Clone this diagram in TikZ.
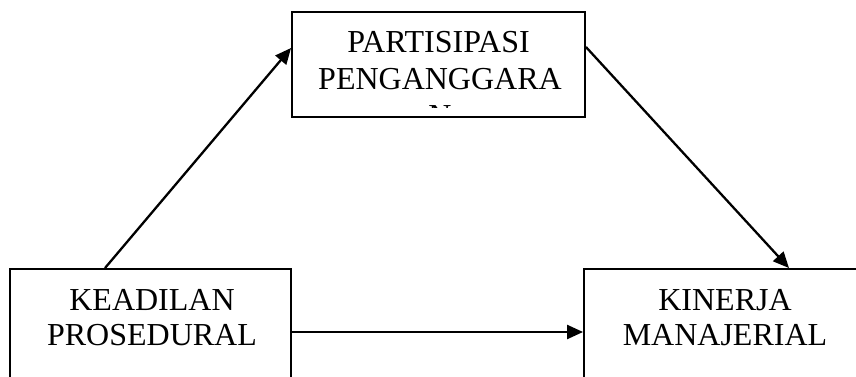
\documentclass[tikz,border=0pt]{standalone}
\usepackage{fontspec}
\setmainfont{Liberation Serif}
\usetikzlibrary{arrows.meta}
\begin{document}
\begin{tikzpicture}[x=1pt,y=-1pt,
  box/.style={draw=black,line width=1.9pt,rectangle,inner sep=0pt},
  lbl/.style={anchor=base,inner sep=0pt,font=\fontsize{32}{37}\selectfont},
  arr/.style={line width=2.3pt,-{Triangle[length=16pt,width=14pt]}}]
\useasboundingbox (0,0) rectangle (856,377);
\clip (0,0) rectangle (856,377);
\fill[white] (0,0) rectangle (856,377);
% boxes
\node[box,minimum width=293pt,minimum height=105pt] (T) at (438.5,64.5) {};
\node[box,minimum width=281pt,minimum height=126pt] (L) at (150.5,332) {};
\node[box,minimum width=282pt,minimum height=126pt] (R) at (725,332) {};
% texts
\node[lbl] (t1) at (438.5,53) {PARTISIPASI};
\node[lbl] (t2) at (440,90) {PENGANGGARA};
\begin{scope}
\clip (292,12) rectangle (585,107.5);
\node[lbl] (t3) at (440,127) {N};
\end{scope}
\node[lbl] (l1) at (152,310) {KEADILAN};
\node[lbl] (l2) at (152,345) {PROSEDURAL};
\node[lbl] (r1) at (725,310) {KINERJA};
\node[lbl] (r2) at (725,345) {MANAJERIAL};
% connectors
\coordinate (a1) at ([xshift=-45.5pt]L.north);
\draw[arr] (a1) -- ([yshift=16.5pt]T.west);
\draw[arr] ([yshift=17.5pt]T.east) -- ([xshift=64pt]R.north);
\draw[arr] (L.east) -- (R.west);
\end{tikzpicture}
\end{document}
